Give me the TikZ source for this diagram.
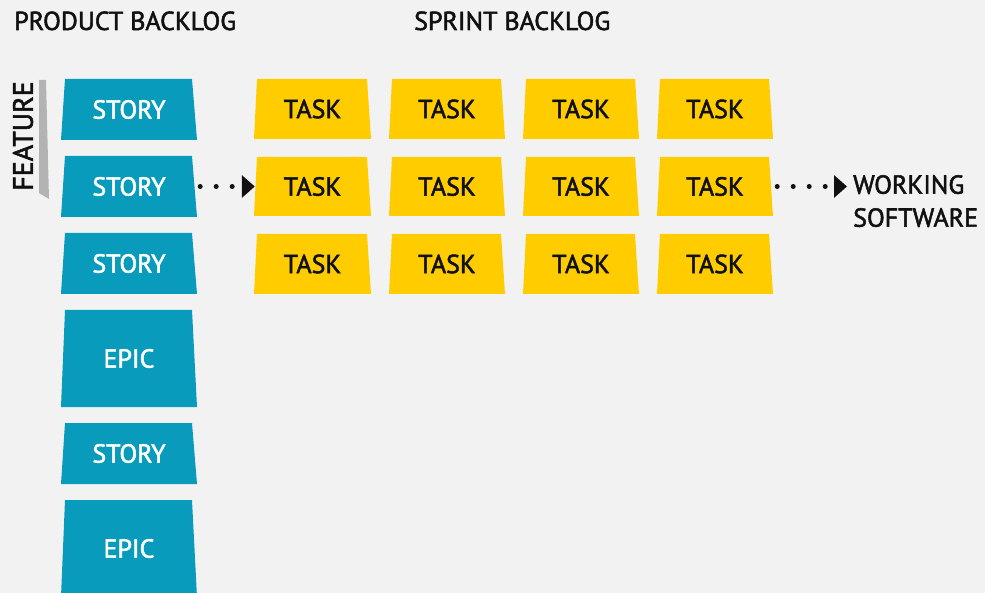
\documentclass[tikz,border=0pt]{standalone}
\usepackage{fontspec}
\setmainfont{PT Sans}[BoldFont={PT Sans}, BoldFeatures={FakeBold=2}]
\usetikzlibrary{arrows.meta}
\definecolor{bgcol}{HTML}{F2F2F2}
\definecolor{storyblue}{HTML}{099BBC}
\definecolor{taskyel}{HTML}{FFCC00}
\definecolor{featgray}{HTML}{B3B3B3}
\definecolor{inkcol}{HTML}{111111}
\newcommand\bodyfnt{\fontsize{26}{33}\selectfont\bfseries}
\newcommand\headfnt{\fontsize{26}{30}\selectfont\bfseries}
\newcommand\cardbox[9]{%
  \fill[#8fill] (#2,#5) -- (#3,#5) -- ({#3-#7},#4) -- ({#2+#6},#4) -- cycle;
  \node[#8text, minimum width={#3-#2}, minimum height={#5-#4}] (#1) at ({(#2+#3)/2},{(#4+#5)/2}) {#9};
}
\tikzset{
  storyfill/.style={fill=storyblue},
  storytext/.style={text=white, font=\bodyfnt, inner sep=0pt},
  taskfill/.style={fill=taskyel},
  tasktext/.style={text=inkcol, font=\bodyfnt, inner sep=0pt},
  header/.style={anchor=base west, font=\headfnt, text=inkcol, inner sep=0pt},
  dotarrow/.style={line width=5pt, line cap=round, dash pattern=on 0pt off 16pt, draw=inkcol,
    -{Triangle[length=13pt,width=22pt]}},
}
\begin{document}
\begin{tikzpicture}[x=1pt,y=-1pt]
\useasboundingbox (0,0) rectangle (985,593);
\clip (0,0) rectangle (985,593);
\fill[bgcol] (0,0) rectangle (985,593);
% headers
\node[header] (pb) at (14,30) {PRODUCT BACKLOG};
\node[header] (sb) at (414,30) {SPRINT BACKLOG};
% feature bar
\fill[featgray] (39,80) -- (46,80) -- (49,199) -- (39,193) -- cycle;
\node[rotate=90, font=\fontsize{28}{33}\selectfont\bfseries, text=inkcol, inner sep=0pt] (feat) at (23,136) {FEATURE};
% product backlog
\cardbox{s1}{61}{197}{79}{140}{4}{5}{story}{STORY}
\cardbox{s2}{61}{197}{156}{217}{4}{5}{story}{STORY}
\cardbox{s3}{61}{197}{233}{294}{4}{5}{story}{STORY}
\cardbox{e1}{61}{197}{310}{407}{4}{5}{story}{EPIC}
\cardbox{s4}{61}{197}{423}{484}{4}{5}{story}{STORY}
\cardbox{e2}{61}{197}{500}{597}{4}{5}{story}{EPIC}
% sprint backlog
\foreach \r/\yt/\yb in {1/79/139,2/157/216,3/234/294}{
  \foreach \c/\xl/\xr in {1/254/371,2/389/505,3/523/639,4/657/773}{
    \cardbox{t\r\c}{\xl}{\xr}{\yt}{\yb}{3}{4}{task}{TASK}
  }
}
% working software
\node[anchor=north west, align=left, font=\bodyfnt, text=inkcol, inner sep=0pt] (ws) at (853,175) {WORKING\\SOFTWARE};
% connectors
\draw[dotarrow, shorten <=3pt, shorten >=-1pt] (s2.east) -- (t21.west);
\draw[dotarrow, shorten <=4pt, shorten >=6pt] (t24.east) -- (t24.east -| ws.west);
\end{tikzpicture}
\end{document}
